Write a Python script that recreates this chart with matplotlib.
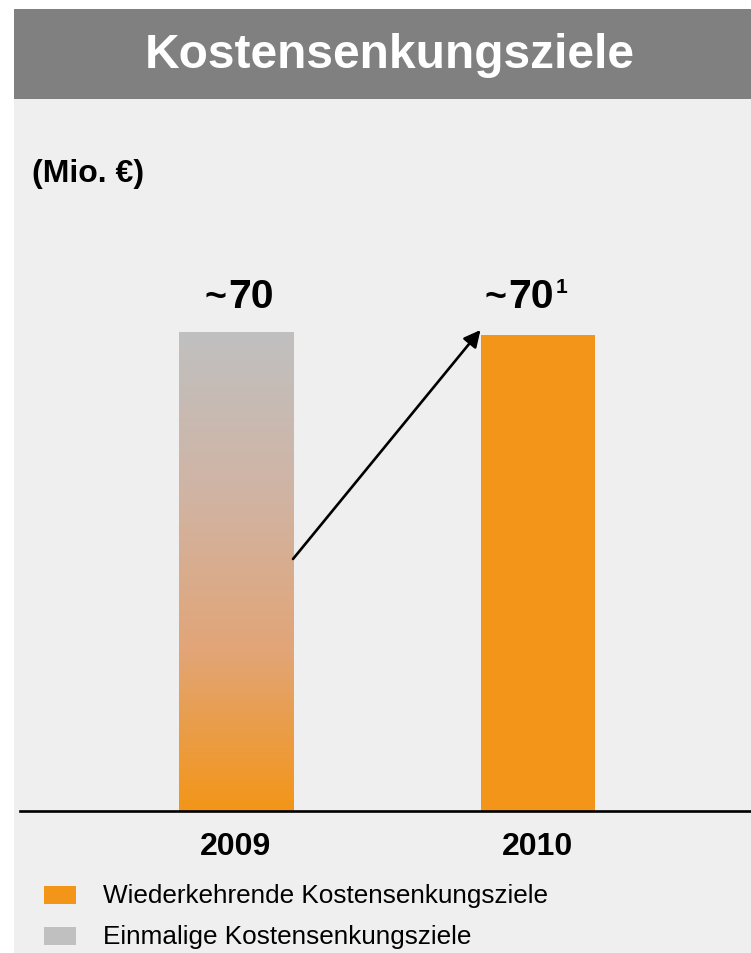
import numpy as np
import matplotlib
matplotlib.use("Agg")
import matplotlib.pyplot as plt
from matplotlib.patches import Rectangle
from matplotlib.colors import LinearSegmentedColormap

plt.rcParams['font.family'] = ['Liberation Sans', 'DejaVu Sans']

# ---- data ----
title = "Kostensenkungsziele"
unit_label = "(Mio. €)"
years = ["2009", "2010"]
values = [70, 69.5]
value_labels = ["~70", "~70"]
footnotes = ["", "1"]
legend_labels = ["Wiederkehrende Kostensenkungsziele", "Einmalige Kostensenkungsziele"]

ORANGE = "#F39518"
GRAY = "#C0C0C0"
PANEL = "#EFEFEF"
TITLEBAR = "#808080"

W, H = 751, 954
fig = plt.figure(figsize=(W / 100, H / 100), dpi=100)
fig.patch.set_facecolor("white")

def fx(x):
    return x / W

def fy(y):
    return 1 - y / H

# panel + title bar
fig.patches.append(Rectangle((fx(14), 0), 1 - fx(14), fy(100), transform=fig.transFigure,
                             facecolor=PANEL, edgecolor="none", zorder=-10))
fig.patches.append(Rectangle((fx(14), fy(100)), 1 - fx(14), fy(10) - fy(100), transform=fig.transFigure,
                             facecolor=TITLEBAR, edgecolor="none", zorder=-10))
fig.text(fx(390), fy(55), title, color="white", fontsize=34.5, fontweight="bold",
         ha="center", va="center")
fig.text(fx(32), fy(174), unit_label, color="black", fontsize=23, fontweight="bold",
         ha="left", va="center")

# axes: bottom at y=812 px, top at y=100 px
ax = fig.add_axes([fx(14), fy(812), 1 - fx(14), fy(100) - fy(812)])
ax.set_facecolor("none")
ax.set_zorder(1)
px_per_unit = (812 - 333) / 70.0
x = np.arange(len(years))
ppx = 301.5
width = 114 / ppx

bars = ax.bar(x, values, width=width, color=[GRAY, ORANGE], edgecolor="none", zorder=2)

# gradient for the 2009 bar (grey at top -> orange at bottom)
b0 = bars[0]
bx0, by0 = b0.get_x(), b0.get_y()
bw, bh = b0.get_width(), b0.get_height()
cmap = LinearSegmentedColormap.from_list("g", [ORANGE, "#E2A577", "#D0B4A4", GRAY])
grad = np.linspace(0, 1, 256).reshape(-1, 1)
im = ax.imshow(grad, cmap=cmap, aspect="auto", origin="lower",
               extent=[bx0, bx0 + bw, by0, by0 + bh], zorder=3, interpolation="bilinear")
im.set_clip_path(b0)
ax.set_xlim(-(236 - 14) / ppx, 1 + (751 - 537.5) / ppx)
ax.set_ylim(0, (812 - 100) / px_per_unit)

# axis line
ax.axhline(0, xmin=(20 - 14) / (751 - 14), xmax=1, color="black", lw=1.9, zorder=5, clip_on=False)
for s in ax.spines.values():
    s.set_visible(False)
ax.set_xticks([])
ax.set_yticks([])

# value labels (anchored at the top of the tallest bar)
ref_top = max(values)
for i, (v, lab, fn) in enumerate(zip(values, value_labels, footnotes)):
    shift = -15.5 if fn else 0
    ax.annotate(lab[0], (x[i], ref_top), xytext=(-15 + shift, 18), textcoords="offset points",
                ha="center", va="baseline", fontsize=27, fontweight="bold")
    ax.annotate(lab[1:], (x[i], ref_top), xytext=(10.5 + shift, 18), textcoords="offset points",
                ha="center", va="baseline", fontsize=29.5, fontweight="bold")
    if fn:
        ax.annotate(fn, (x[i], ref_top), xytext=(17, 29), textcoords="offset points",
                    ha="center", va="baseline", fontsize=15, fontweight="bold")

# year labels
for i, y in enumerate(years):
    ax.annotate(y, (x[i], 0), xytext=(0, -25.5), textcoords="offset points",
                ha="center", va="center", fontsize=23, fontweight="bold")

# arrow from 2009 bar to 2010 bar
start = (x[0] + width / 2, (812 - 560) / px_per_unit)
end = (x[1] - width / 2, (812 - 331) / px_per_unit)
ax.annotate("", xy=end, xytext=start,
            arrowprops=dict(arrowstyle="-|>,head_length=1.0,head_width=0.5", color="black",
                            lw=1.9, shrinkA=0, shrinkB=0), zorder=6)

# legend
for i, (lab, col) in enumerate(zip(legend_labels, [ORANGE, GRAY])):
    yc = 896 + i * 41
    fig.patches.append(Rectangle((fx(44), fy(yc + 9)), fx(76) - fx(44), fy(yc - 9) - fy(yc + 9),
                                 transform=fig.transFigure, facecolor=col, edgecolor="none"))
    fig.text(fx(103), fy(yc), lab, fontsize=18.8, ha="left", va="center", color="black")

fig.savefig("out.png", dpi=100, facecolor=fig.get_facecolor())
